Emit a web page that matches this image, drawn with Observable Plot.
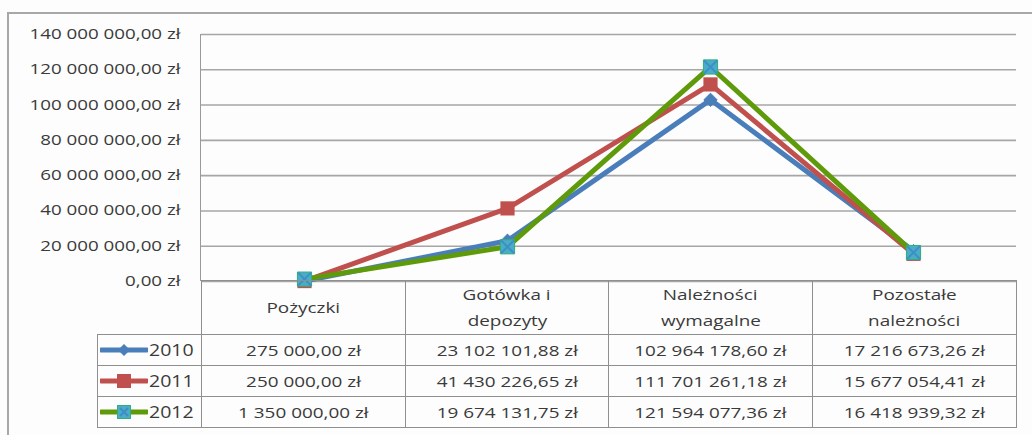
<!DOCTYPE html>
<html><head><meta charset="utf-8">
<script src="https://cdn.jsdelivr.net/npm/d3@7"></script>
<script src="https://cdn.jsdelivr.net/npm/@observablehq/plot@0.6"></script>
<style>
body{margin:0;background:#fff;font-family:"Open Sans",sans-serif;color:#3a3a3a}
#wrap{position:relative;width:1032px;height:435px;overflow:hidden;background:#fdfdfd}
#outer{position:absolute;left:7px;top:12px;width:1060px;height:460px;border-left:2px solid #a8a8a8;border-top:2px solid #a8a8a8}
#chart{position:absolute;left:0;top:0}
#vline{position:absolute;left:200px;top:34px;width:0;height:247px;border-left:1.5px solid #9a9a9a}
table{position:absolute;left:97px;top:280px;border-collapse:collapse;table-layout:fixed;font-size:14px;color:#3a3a3a}
td{border:1px solid #8f8f8f;text-align:center;padding:0;height:30px;white-space:nowrap}
tr.head td{height:53px;line-height:26px;white-space:pre-line}
tr.head td.blank{border:none;border-right:1px solid #8f8f8f}
.s{display:inline-block;transform:scaleX(1.35)}
td.leg{text-align:left}
.legbox{display:flex;align-items:center;height:30px}
.legbox svg{margin-left:2px}
.legtxt{display:inline-block;font-size:16px;transform:scaleX(1.22);transform-origin:left center;margin-left:1px}
</style></head>
<body>
<div id="wrap">
  <div id="outer"></div>
  <div id="chart"></div>
  <div id="vline"></div>
  <table id="tbl"></table>
</div>
<script>
const categories = ["Pożyczki", "Gotówka i depozyty", "Należności wymagalne", "Pozostałe należności"];
const categoryLabels = ["Pożyczki", "Gotówka i\ndepozyty", "Należności\nwymagalne", "Pozostałe\nnależności"];
const years = ["2010", "2011", "2012"];
const values2010 = [275000.00, 23102101.88, 102964178.60, 17216673.26];
const values2011 = [250000.00, 41430226.65, 111701261.18, 15677054.41];
const values2012 = [1350000.00, 19674131.75, 121594077.36, 16418939.32];
const yTicks = [0, 20000000, 40000000, 60000000, 80000000, 100000000, 120000000, 140000000];

const seriesValues = {"2010": values2010, "2011": values2011, "2012": values2012};
const lineColors = {"2010": "#4a7ebb", "2011": "#c0504d", "2012": "#5f9a0a"};

const locale = d3.formatLocale({decimal: ",", thousands: " ", grouping: [3], currency: ["", " zł"]});
const fmt = locale.format("$,.2f");

const data = years.flatMap(y => categories.map((c, i) => ({year: y, cat: c, value: seriesValues[y][i]})));

const marks = [
  Plot.ruleY(yTicks, {stroke: "#a6a6a6", strokeWidth: 1.6}),
  Plot.axisY({ticks: yTicks, tickSize: 0, tickPadding: 21, tickFormat: fmt, label: null}),
  Plot.axisX({ticks: [], label: null})
];
for (const y of years) {
  const d = data.filter(r => r.year === y);
  marks.push(Plot.line(d, {x: "cat", y: "value", stroke: lineColors[y], strokeWidth: 5, strokeLinejoin: "round"}));
  if (y === "2010") marks.push(Plot.dot(d, {x: "cat", y: "value", symbol: "diamond2", r: 6, fill: lineColors[y], stroke: lineColors[y], strokeWidth: 1}));
  if (y === "2011") marks.push(Plot.dot(d, {x: "cat", y: "value", symbol: "square", r: 8, fill: lineColors[y], stroke: lineColors[y], strokeWidth: 0}));
  if (y === "2012") {
    marks.push(Plot.dot(d, {x: "cat", y: "value", symbol: "square", r: 8, fill: "#4bacc6", stroke: "#2eaf7d", strokeWidth: 1}));
    marks.push(Plot.dot(d, {x: "cat", y: "value", symbol: "times", r: 6, stroke: "#3d8fc7", strokeWidth: 2}));
  }
}

const plot = Plot.plot({
  width: 1032,
  height: 290,
  marginTop: 34,
  marginBottom: 9,
  marginLeft: 201,
  marginRight: 16,
  style: {fontFamily: "Open Sans", fontSize: "14px", color: "#3a3a3a", background: "transparent"},
  x: {type: "point", domain: categories, padding: 0.5},
  y: {domain: [0, 140000000]},
  marks
});
document.getElementById("chart").appendChild(plot);
plot.querySelectorAll("text").forEach(t => {
  const L = t.getComputedTextLength();
  if (L > 0) { t.setAttribute("textLength", L * 1.34); t.setAttribute("lengthAdjust", "spacingAndGlyphs"); }
});

// table
const tbl = document.getElementById("tbl");
const colg = document.createElement("colgroup");
[104, 204, 203, 204, 204].forEach(w => { const c = document.createElement("col"); c.style.width = w + "px"; colg.appendChild(c); });
tbl.appendChild(colg);
const head = document.createElement("tr"); head.className = "head";
const blank = document.createElement("td"); blank.className = "blank"; head.appendChild(blank);
categoryLabels.forEach(l => { const td = document.createElement("td"); td.innerHTML = l.split("\n").map(s => `<span class="s">${s}</span>`).join("<br>"); head.appendChild(td); });
tbl.appendChild(head);

function legendSvg(y) {
  const c = lineColors[y];
  let m = "";
  if (y === "2010") m = `<path d="M24 1 L30 7 L24 13 L18 7 Z" fill="${c}"/>`;
  if (y === "2011") m = `<rect x="17" y="0" width="14" height="14" fill="${c}"/>`;
  if (y === "2012") m = `<rect x="17.5" y="0.5" width="13" height="13" fill="#4bacc6" stroke="#2eaf7d"/><path d="M20 3 L28 11 M28 3 L20 11" stroke="#3d8fc7" stroke-width="2"/>`;
  return `<svg width="48" height="14"><line x1="1" y1="7" x2="47" y2="7" stroke="${c}" stroke-width="5" stroke-linecap="round"/>${m}</svg>`;
}
years.forEach(y => {
  const tr = document.createElement("tr");
  const lg = document.createElement("td"); lg.className = "leg";
  lg.innerHTML = `<div class="legbox">${legendSvg(y)}<span class="legtxt">${y}</span></div>`;
  tr.appendChild(lg);
  seriesValues[y].forEach(v => { const td = document.createElement("td"); td.innerHTML = `<span class="s">${fmt(v)}</span>`; tr.appendChild(td); });
  tbl.appendChild(tr);
});
</script>
</body></html>
